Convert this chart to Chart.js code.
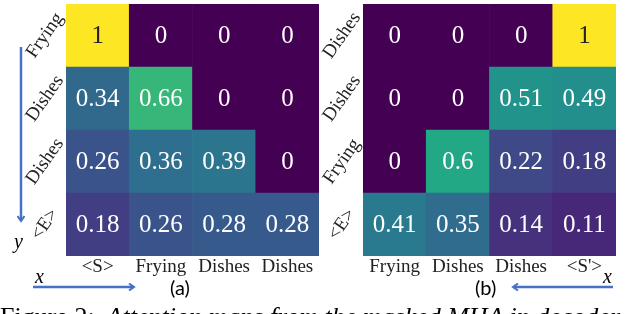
<!DOCTYPE html>
<html>
<head>
<meta charset="utf-8">
<script src="https://cdn.jsdelivr.net/npm/chart.js@4.4.0/dist/chart.umd.min.js"></script>
<style>
body { margin: 0; background: #fff; width: 628px; height: 314px; overflow: hidden; position: relative; }
canvas { position: absolute; top: 0; }
#chartA { left: 0; }
#chartB { left: 315px; }
.lbl { position: absolute; white-space: nowrap; }
.var { font-family: "Liberation Serif", serif; font-style: italic; font-size: 20px; }
.sub { font-family: Lato, "Open Sans", sans-serif; font-size: 20px; }
#caption { position: absolute; left: 0; top: 302px; font-family: "Liberation Serif", serif; font-size: 26px; white-space: nowrap; }
#caption i { margin-left: 12px; }
</style>
</head>
<body>
<canvas id="chartA" width="322" height="290"></canvas>
<canvas id="chartB" width="305" height="290"></canvas>

<svg width="628" height="314" style="position:absolute;left:0;top:0" >
  <defs>
    <marker id="head" markerWidth="8" markerHeight="8" refX="6" refY="4" orient="auto" markerUnits="userSpaceOnUse">
      <path d="M1,0.5 L6,4 L1,7.5" fill="none" stroke="#4472c4" stroke-width="2"/>
    </marker>
  </defs>
  <line x1="21" y1="47" x2="21" y2="221" stroke="#4472c4" stroke-width="2.5" marker-end="url(#head)"/>
  <line x1="33" y1="287" x2="134" y2="287" stroke="#4472c4" stroke-width="2.5" marker-end="url(#head)"/>
  <line x1="613" y1="287" x2="513" y2="287" stroke="#4472c4" stroke-width="2.5" marker-end="url(#head)"/>
</svg>
<div class="lbl var" style="left:14px;top:230px">y</div>
<div class="lbl var" style="left:35px;top:265px">x</div>
<div class="lbl var" style="left:603px;top:265px">x</div>
<div class="lbl sub" style="left:170px;top:275px">(a)</div>
<div class="lbl sub" style="left:475px;top:275px">(b)</div>
<div id="caption">Figure 2:<i>Attention maps from the masked MHA in decoder</i></div>

<script>
// (a) rows from top to bottom
var colsA = ['<S>', 'Frying', 'Dishes', 'Dishes'];
var rowsA = ['Frying', 'Dishes', 'Dishes', '<E>'];
var valsA = [
  [1, 0, 0, 0],
  [0.34, 0.66, 0, 0],
  [0.26, 0.36, 0.39, 0],
  [0.18, 0.26, 0.28, 0.28]
];

// (b)
var colsB = ['Frying', 'Dishes', 'Dishes', "<S'>"];
var rowsB = ['Dishes', 'Dishes', 'Frying', '<E>'];
var valsB = [
  [0, 0, 0, 1],
  [0, 0, 0.51, 0.49],
  [0, 0.6, 0.22, 0.18],
  [0.41, 0.35, 0.14, 0.11]
];

// viridis colormap
var viridis = ['#440154', '#482475', '#414487', '#355f8d', '#2a788e', '#21918c',
               '#22a884', '#44bf70', '#7ad151', '#bddf26', '#fde725'];

function hex(c) {
  return [parseInt(c.substr(1, 2), 16), parseInt(c.substr(3, 2), 16), parseInt(c.substr(5, 2), 16)];
}
function colorOf(v) {
  var t = Math.max(0, Math.min(1, v)) * 10;
  var i = Math.min(9, Math.floor(t));
  var f = t - i;
  var a = hex(viridis[i]), b = hex(viridis[i + 1]);
  var c = a.map(function (x, k) { return Math.round(x + (b[k] - x) * f); });
  return 'rgb(' + c.join(',') + ')';
}

var cellText = {
  id: 'cellText',
  afterDatasetsDraw: function (chart) {
    var ctx = chart.ctx;
    ctx.save();
    ctx.font = '25px "Liberation Serif", serif';
    ctx.textAlign = 'center';
    ctx.textBaseline = 'middle';
    chart.data.datasets.forEach(function (ds, di) {
      var meta = chart.getDatasetMeta(di);
      meta.data.forEach(function (bar, i) {
        var v = ds.values[i];
        ctx.fillStyle = v > 0.8 ? '#222' : '#fff';
        ctx.fillText(String(v), bar.x, (bar.y + bar.base) / 2 + 1);
      });
    });
    ctx.restore();
  }
};

// slanted row labels, centred on each row
var rowLabels = {
  id: 'rowLabels',
  afterDraw: function (chart) {
    var s = chart.scales.yl, ctx = chart.ctx;
    ctx.save();
    ctx.font = '19px "Liberation Serif", serif';
    ctx.fillStyle = '#222';
    ctx.textAlign = 'center';
    ctx.textBaseline = 'middle';
    s.getLabels().forEach(function (lab, i) {
      ctx.save();
      ctx.translate(chart.chartArea.left - 21, s.getPixelForValue(i));
      ctx.rotate(-55 * Math.PI / 180);
      ctx.fillText(lab, 0, 0);
      ctx.restore();
    });
    ctx.restore();
  }
};

function makeHeatmap(id, cols, rows, vals, yWidth, padRight) {
  // datasets stack from bottom, so the last row comes first
  var datasets = [];
  for (var r = rows.length - 1; r >= 0; r--) {
    datasets.push({
      label: rows[r],
      data: vals[r].map(function () { return 1; }),
      values: vals[r],
      backgroundColor: vals[r].map(colorOf),
      borderWidth: 0,
      categoryPercentage: 1,
      barPercentage: 1
    });
  }
  return new Chart(document.getElementById(id), {
    type: 'bar',
    data: { labels: cols, datasets: datasets },
    options: {
      responsive: false,
      animation: false,
      layout: { padding: { top: 4, right: padRight, left: 0, bottom: 0 } },
      plugins: { legend: { display: false }, tooltip: { enabled: false } },
      scales: {
        x: {
          stacked: true,
          grid: { display: false, drawTicks: false },
          border: { display: false },
          ticks: { color: '#222', padding: 0, font: { family: 'Liberation Serif', size: 19 }, maxRotation: 0 },
          afterFit: function (s) { s.height = 34; }
        },
        y: { stacked: true, min: 0, max: rows.length, display: false },
        yl: {
          type: 'category',
          position: 'left',
          labels: rows,
          offset: true,
          grid: { display: false, drawTicks: false },
          border: { display: false },
          ticks: { display: false },
          afterFit: function (s) { s.width = yWidth; }
        }
      }
    },
    plugins: [cellText, rowLabels]
  });
}

makeHeatmap('chartA', colsA, rowsA, valsA, 66, 3);
makeHeatmap('chartB', colsB, rowsB, valsB, 48, 4);
</script>
</body>
</html>
